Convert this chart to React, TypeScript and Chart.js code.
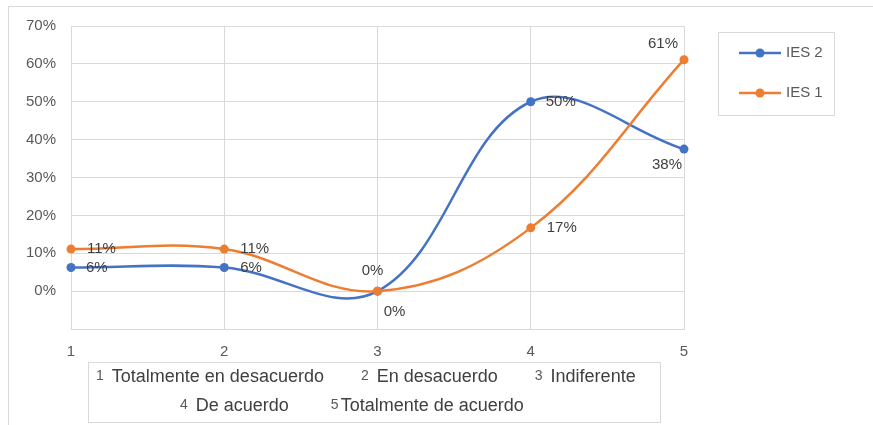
import React, { useEffect, useRef } from "react";
import { Chart, registerables } from "chart.js";

Chart.register(...registerables);

const categories = [1, 2, 3, 4, 5];
const ies2Values = [0.0625, 0.0625, 0, 0.5, 0.375];
const ies1Values = [0.111, 0.111, 0, 0.167, 0.611];
const yTickValues = [-0.1, 0, 0.1, 0.2, 0.3, 0.4, 0.5, 0.6, 0.7];
const categoryNames = [
  "Totalmente en desacuerdo",
  "En desacuerdo",
  "Indiferente",
  "De acuerdo",
  "Totalmente de acuerdo",
];
const seriesNames = ["IES 2", "IES 1"];

const BLUE = "#4472C4";
const ORANGE = "#ED7D31";
const GRID = "#D9D9D9";
const TEXT = "#595959";
const LABEL = "#404040";
const FONT = "'Liberation Sans', Arial, sans-serif";

// data-label placement per point: [dx, dy, align]
const ies2LabelPlace: [number, number, CanvasTextAlign][] = [
  [15, 0, "left"],
  [16, 0, "left"],
  [-5, -20, "center"],
  [15, 0, "left"],
  [-2, 16, "right"],
];
const ies1LabelPlace: [number, number, CanvasTextAlign][] = [
  [16, 0, "left"],
  [16, 0, "left"],
  [17, 21, "center"],
  [16, 0, "left"],
  [-6, -16, "right"],
];

const pct = (v: number) => Math.round(v * 100) + "%";

export default function App() {
  const ref = useRef<HTMLCanvasElement | null>(null);

  useEffect(() => {
    const canvas = ref.current;
    if (!canvas) return;

    const frame = {
      id: "frame",
      beforeDraw(chart: any) {
        const ctx = chart.ctx;
        ctx.save();
        ctx.fillStyle = "#ffffff";
        ctx.fillRect(0, 0, chart.width, chart.height);
        ctx.strokeStyle = GRID;
        ctx.lineWidth = 1;
        ctx.strokeRect(8.5, 6.5, chart.width + 20, chart.height + 20);
        ctx.restore();
      },
    };

    const dataLabels = {
      id: "dataLabels",
      afterDatasetsDraw(chart: any) {
        const ctx = chart.ctx;
        ctx.save();
        ctx.font = `15px ${FONT}`;
        ctx.fillStyle = LABEL;
        ctx.textBaseline = "middle";
        const places = [ies2LabelPlace, ies1LabelPlace];
        chart.data.datasets.forEach((ds: any, di: number) => {
          const meta = chart.getDatasetMeta(di);
          meta.data.forEach((pt: any, i: number) => {
            const [dx, dy, align] = places[di][i];
            ctx.textAlign = align;
            ctx.fillText(pct(ds.data[i].y), pt.x + dx, pt.y + dy);
          });
        });
        ctx.restore();
      },
    };

    const sideLegend = {
      id: "sideLegend",
      afterDraw(chart: any) {
        const ctx = chart.ctx;
        const a = chart.chartArea;
        const bx = a.right + 34;
        const by = 32;
        ctx.save();
        ctx.strokeStyle = GRID;
        ctx.lineWidth = 1;
        ctx.strokeRect(bx + 0.5, by + 0.5, 116, 83);
        const colors = [BLUE, ORANGE];
        seriesNames.forEach((name, i) => {
          const y = by + 21 + i * 40;
          ctx.strokeStyle = colors[i];
          ctx.lineWidth = 2.5;
          ctx.beginPath();
          ctx.moveTo(bx + 21, y);
          ctx.lineTo(bx + 63, y);
          ctx.stroke();
          ctx.fillStyle = colors[i];
          ctx.beginPath();
          ctx.arc(bx + 42, y, 4.5, 0, Math.PI * 2);
          ctx.fill();
          ctx.fillStyle = TEXT;
          ctx.font = `15px ${FONT}`;
          ctx.textAlign = "left";
          ctx.textBaseline = "middle";
          ctx.fillText(name, bx + 68, y);
        });
        ctx.restore();
      },
    };

    const categoryBox = {
      id: "categoryBox",
      afterDraw(chart: any) {
        const ctx = chart.ctx;
        const a = chart.chartArea;
        const bx = a.left + 17;
        const by = a.bottom + 33;
        const bw = 572;
        const bh = 60;
        ctx.save();
        ctx.strokeStyle = GRID;
        ctx.lineWidth = 1;
        ctx.strokeRect(bx + 0.5, by + 0.5, bw, bh);
        ctx.textBaseline = "middle";
        ctx.textAlign = "left";
        const rows = [
          { start: bx + 8, y: by + 15, items: [0, 1, 2], gap: 37 },
          { start: bx + 92, y: by + 44, items: [3, 4], gap: 42 },
        ];
        rows.forEach((row) => {
          let x = row.start;
          row.items.forEach((idx, k) => {
            ctx.font = `14px ${FONT}`;
            ctx.fillStyle = TEXT;
            const num = String(categories[idx]);
            ctx.fillText(num, x, row.y - 1);
            x += ctx.measureText(num).width + (idx === 4 ? 2 : 8);
            ctx.font = `18px ${FONT}`;
            ctx.fillStyle = "#404040";
            ctx.fillText(categoryNames[idx], x, row.y);
            x += ctx.measureText(categoryNames[idx]).width;
            if (k < row.items.length - 1) x += row.gap;
          });
        });
        ctx.restore();
      },
    };

    const chart = new Chart(canvas, {
      type: "line",
      data: {
        datasets: [
          {
            label: seriesNames[0],
            data: categories.map((c, i) => ({ x: c, y: ies2Values[i] })),
            borderColor: BLUE,
            backgroundColor: BLUE,
            borderWidth: 2.5,
            pointRadius: 4.5,
            pointBorderWidth: 0,
            tension: 0.38,
            clip: false,
            order: 1,
          },
          {
            label: seriesNames[1],
            data: categories.map((c, i) => ({ x: c, y: ies1Values[i] })),
            borderColor: ORANGE,
            backgroundColor: ORANGE,
            borderWidth: 2.5,
            pointRadius: 4.5,
            pointBorderWidth: 0,
            tension: 0.38,
            clip: false,
            order: 0,
          },
        ],
      },
      options: {
        animation: false,
        responsive: false,
        devicePixelRatio: 1,
        layout: { padding: { left: 0, top: 26, right: 189, bottom: 0 } },
        plugins: {
          legend: { display: false },
          tooltip: { enabled: false },
        },
        scales: {
          x: {
            type: "linear",
            min: categories[0],
            max: categories[categories.length - 1],
            afterFit: (s: any) => {
              s.height = 96;
            },
            afterBuildTicks: (s: any) => {
              s.ticks = categories.map((v) => ({ value: v }));
            },
            ticks: {
              padding: 14,
              color: TEXT,
              font: { family: FONT, size: 15 },
              callback: (v: any) => String(v),
            },
            grid: { color: GRID, lineWidth: 1, drawTicks: false },
            border: { display: true, color: GRID },
          },
          y: {
            min: yTickValues[0],
            max: yTickValues[yTickValues.length - 1],
            afterFit: (s: any) => {
              s.width = 71;
            },
            afterBuildTicks: (s: any) => {
              s.ticks = yTickValues.map((v) => ({ value: v }));
            },
            ticks: {
              padding: 15,
              color: TEXT,
              font: { family: FONT, size: 15 },
              callback: (v: any) => (v < -0.05 ? "" : pct(v)),
            },
            grid: { color: GRID, lineWidth: 1, drawTicks: false },
            border: { display: true, color: GRID },
          },
        },
      },
      plugins: [frame, dataLabels, sideLegend, categoryBox],
    });

    return () => chart.destroy();
  }, []);

  return (
    <div style={{ position: "absolute", left: 0, top: 0, width: 873, height: 425 }}>
      <canvas ref={ref} width={873} height={425} style={{ display: "block" }} />
    </div>
  );
}
